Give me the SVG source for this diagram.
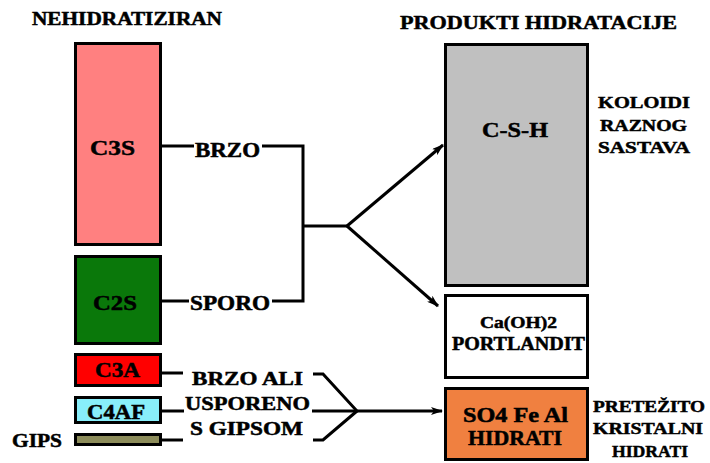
<svg xmlns="http://www.w3.org/2000/svg" width="710" height="463" viewBox="0 0 710 463">
<defs>
<marker id="arr" viewBox="0 0 12 8" refX="11" refY="4" markerWidth="12" markerHeight="8" markerUnits="userSpaceOnUse" orient="auto">
<path d="M0,0 L12,4 L0,8 L3,4 Z" fill="#000"/>
</marker>
<style>
.box{stroke:#000;stroke-width:3}
.t{font-family:'Liberation Serif','DejaVu Serif',serif;font-weight:bold;fill:#000;stroke:#000;stroke-width:0.5}
.ln{fill:none;stroke:#000;stroke-width:3;stroke-linejoin:miter}
</style>
</defs>
<rect width="710" height="463" fill="#fff"/>
<text class="t" x="32" y="25" font-size="19" textLength="190" lengthAdjust="spacingAndGlyphs">NEHIDRATIZIRAN</text>
<text class="t" x="400" y="29" font-size="19" textLength="277" lengthAdjust="spacingAndGlyphs">PRODUKTI HIDRATACIJE</text>

<g id="c3s"><rect class="box" x="75.5" y="43.5" width="85" height="201" fill="#FF8080"/><text class="t" x="90" y="155" font-size="21" textLength="45" lengthAdjust="spacingAndGlyphs">C3S</text></g>
<g id="c2s"><rect class="box" x="75.5" y="256.5" width="85" height="87" fill="#0A780A"/><text class="t" x="93" y="310" font-size="21" textLength="44" lengthAdjust="spacingAndGlyphs">C2S</text></g>
<g id="c3a"><rect class="box" x="75.5" y="354.5" width="85" height="31" fill="#FF0000"/><text class="t" x="95" y="377" font-size="20" textLength="45" lengthAdjust="spacingAndGlyphs">C3A</text></g>
<g id="c4af"><rect class="box" x="75.5" y="397.5" width="85" height="25" fill="#88EEFA"/><text class="t" x="87" y="419" font-size="20" textLength="58" lengthAdjust="spacingAndGlyphs">C4AF</text></g>
<g id="gips"><rect class="box" x="75.5" y="434.5" width="85" height="10" fill="#8C8C5A"/><text class="t" x="12" y="447" font-size="19" textLength="50" lengthAdjust="spacingAndGlyphs">GIPS</text></g>

<g id="csh"><rect class="box" x="445.5" y="44.5" width="142" height="241" fill="#C0C0C0"/><text class="t" x="482" y="137" font-size="21" textLength="66" lengthAdjust="spacingAndGlyphs">C-S-H</text></g>
<g id="caoh2"><rect class="box" x="445.5" y="295.5" width="142" height="82" fill="#FFFFFF"/><text class="t" x="480" y="328" font-size="16" textLength="77" lengthAdjust="spacingAndGlyphs">Ca(OH)2</text><text class="t" x="452" y="350" font-size="18" textLength="133" lengthAdjust="spacingAndGlyphs">PORTLANDIT</text></g>
<g id="so4"><rect class="box" x="445.5" y="388.5" width="142" height="71" fill="#F08040"/><text class="t" x="463" y="422" font-size="20" textLength="105" lengthAdjust="spacingAndGlyphs">SO4 Fe Al</text><text class="t" x="468" y="445" font-size="20" textLength="94" lengthAdjust="spacingAndGlyphs">HIDRATI</text></g>

<g id="labels">
<text class="t" x="195" y="157" font-size="20" textLength="65" lengthAdjust="spacingAndGlyphs">BRZO</text>
<text class="t" x="190" y="310" font-size="20" textLength="80" lengthAdjust="spacingAndGlyphs">SPORO</text>
<text class="t" x="192" y="385" font-size="19" textLength="111" lengthAdjust="spacingAndGlyphs">BRZO ALI</text>
<text class="t" x="185" y="410" font-size="19" textLength="125" lengthAdjust="spacingAndGlyphs">USPORENO</text>
<text class="t" x="190" y="435" font-size="19" textLength="113" lengthAdjust="spacingAndGlyphs">S GIPSOM</text>
<text class="t" x="598" y="108" font-size="17" textLength="92" lengthAdjust="spacingAndGlyphs">KOLOIDI</text>
<text class="t" x="600" y="131" font-size="17" textLength="87" lengthAdjust="spacingAndGlyphs">RAZNOG</text>
<text class="t" x="598" y="153" font-size="17" textLength="92" lengthAdjust="spacingAndGlyphs">SASTAVA</text>
<text class="t" x="593" y="412" font-size="17" textLength="112" lengthAdjust="spacingAndGlyphs">PRETEŽITO</text>
<text class="t" x="593" y="434" font-size="17" textLength="110" lengthAdjust="spacingAndGlyphs">KRISTALNI</text>
<text class="t" x="612" y="457" font-size="17" textLength="76" lengthAdjust="spacingAndGlyphs">HIDRATI</text>
</g>

<g id="connectors">
<path class="ln" d="M161,146 H194"/>
<path class="ln" d="M262,146 H303 V301 H272"/>
<path class="ln" d="M161,301 H189"/>
<path class="ln" d="M303,226 H347"/>
<path class="ln" d="M347,226 L443,145" marker-end="url(#arr)"/>
<path class="ln" d="M347,226 L438,306" marker-end="url(#arr)"/>
<path class="ln" d="M161,373 H183"/>
<path class="ln" d="M161,411 H184"/>
<path class="ln" d="M161,440 H183"/>
<path class="ln" d="M313,374 H323 L357,411 L323,440 H313"/>
<path class="ln" d="M312,411 H442" marker-end="url(#arr)"/>
</g>
</svg>
